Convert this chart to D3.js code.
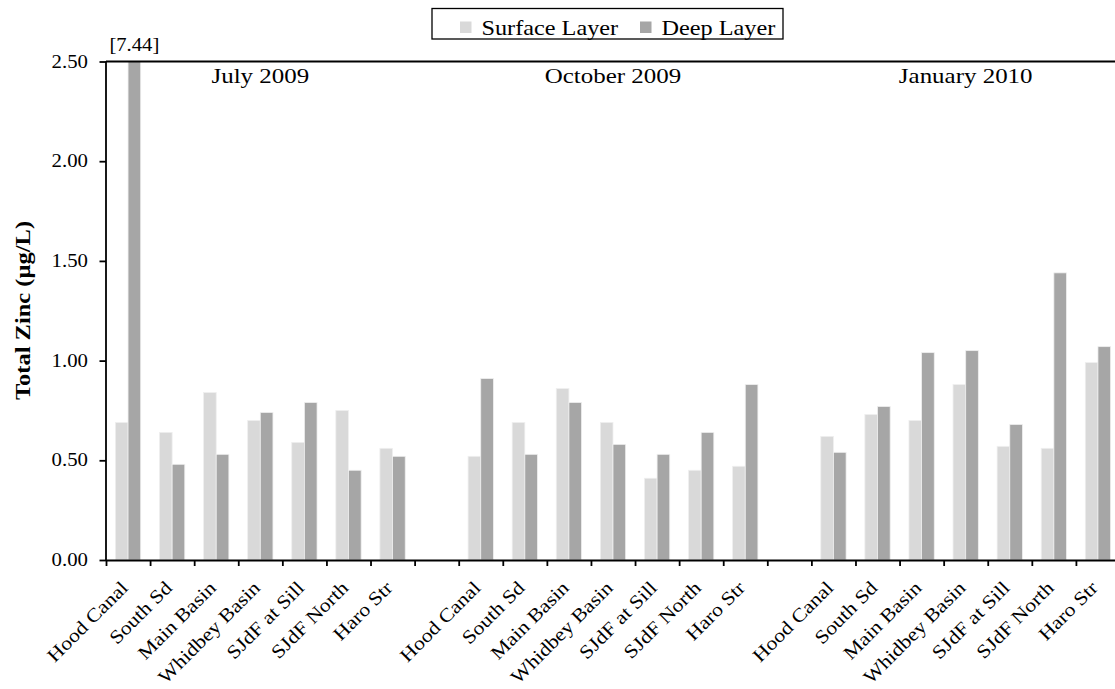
<!DOCTYPE html>
<html><head><meta charset="utf-8">
<script src="https://cdn.jsdelivr.net/npm/d3@7"></script>
<style>
html,body{margin:0;padding:0;background:#fff;overflow:hidden;}
text{font-family:"Liberation Serif","Times New Roman",serif;fill:#000;}
</style></head>
<body>
<svg id="chart" width="1115" height="689"></svg>
<script>
// ---- data ----
const stations = ["Hood Canal","South Sd","Main Basin","Whidbey Basin","SJdF at Sill","SJdF North","Haro Str"];
const periods = ["July 2009","October 2009","January 2010"];
const seriesNames = ["Surface Layer","Deep Layer"];
const surfaceJul = [0.69,0.64,0.84,0.70,0.59,0.75,0.56];
const deepJul    = [7.44,0.48,0.53,0.74,0.79,0.45,0.52];
const surfaceOct = [0.52,0.69,0.86,0.69,0.41,0.45,0.47];
const deepOct    = [0.91,0.53,0.79,0.58,0.53,0.64,0.88];
const surfaceJan = [0.62,0.73,0.70,0.88,0.57,0.56,0.99];
const deepJan    = [0.54,0.77,1.04,1.05,0.68,1.44,1.07];
const yTicks = [0,0.5,1.0,1.5,2.0,2.5];
const yMax = 2.5;

(function(){
// ---- build rows ----
const surfaceAll = [surfaceJul, surfaceOct, surfaceJan];
const deepAll = [deepJul, deepOct, deepJan];
const slots = [];
periods.forEach((p,pi)=>{
  stations.forEach((s,si)=>{
    slots.push({key:p+"|"+s, label:s, period:p, values:[surfaceAll[pi][si], deepAll[pi][si]]});
  });
  if(pi < periods.length-1) slots.push({key:"gap"+pi, label:"", period:null, values:null});
});

const STRETCH = 1.15;
const colors = ["#d9d9d9","#a6a6a6"];
const mL = 106, mR = 1120, mT = 61.5, mB = 560;

const svg = d3.select("#chart");

const x = d3.scaleBand().domain(slots.map(d=>d.key)).range([mL,mR])
  .paddingInner(0.426).paddingOuter(0.213);
const x1 = d3.scaleBand().domain(seriesNames).range([0,x.bandwidth()]);
const y = d3.scaleLinear().domain([0,yMax]).range([mB,mT]);
const xi = d3.scaleLinear().domain([0,slots.length]).range([mL,mR]);

// bars
const g = svg.append("g");
slots.filter(d=>d.values).forEach(d=>{
  seriesNames.forEach((s,i)=>{
    const v = Math.min(d.values[i], yMax);
    g.append("rect")
      .attr("x", x(d.key)+x1(s))
      .attr("y", y(v))
      .attr("width", x1.bandwidth())
      .attr("height", y(0)-y(v))
      .attr("fill", colors[i])
      .attr("stroke", "#efefef").attr("stroke-width", 0.8);
    if(d.values[i] > yMax){
      svg.append("text")
        .attr("transform", `translate(${x(d.key)+x1(s)+x1.bandwidth()/2},50.5) scale(${STRETCH},1)`)
        .attr("text-anchor","middle").style("font-size","18px")
        .text("["+d.values[i].toFixed(2)+"]");
    }
  });
});

// top border
svg.append("line").attr("x1",mL).attr("x2",mR).attr("y1",mT).attr("y2",mT)
  .attr("stroke","#000").attr("stroke-width",1.8);

// y axis
const yAxis = svg.append("g").attr("transform",`translate(${mL},0)`)
  .call(d3.axisLeft(y).tickValues(yTicks).tickSize(6.5).tickFormat(""));
yAxis.selectAll("path,line").attr("stroke","#000").attr("stroke-width",1.8);
yAxis.select("path").attr("d",`M0,${mT}V${mB}`);
yTicks.forEach(t=>{
  svg.append("text")
    .attr("transform",`translate(88,${y(t)+6}) scale(${STRETCH},1)`)
    .attr("text-anchor","end").style("font-size","18.1px")
    .text(d3.format(".2f")(t));
});

// x axis (slot boundary ticks)
const xAxis = svg.append("g").attr("transform",`translate(0,${mB})`)
  .call(d3.axisBottom(xi).tickValues(d3.range(0,slots.length+1)).tickSize(6).tickFormat("").tickSizeOuter(0));
xAxis.selectAll("path,line").attr("stroke","#000").attr("stroke-width",1.8);

// category labels
slots.filter(d=>d.label).forEach(d=>{
  const cx = x(d.key)+x.bandwidth()/2 + 1;
  svg.append("text")
    .attr("transform",`translate(${cx},589) rotate(-45) scale(${STRETCH},1)`)
    .attr("text-anchor","end").style("font-size","19px")
    .text(d.label);
});

// period labels
periods.forEach((p,pi)=>{
  const first = x(p+"|"+stations[0]) - x.step()*x.paddingInner()/2;
  const last = x(p+"|"+stations[stations.length-1]) + x.bandwidth() + x.step()*x.paddingInner()/2;
  svg.append("text")
    .attr("transform",`translate(${(first+last)/2},82.5) scale(${STRETCH},1)`)
    .attr("text-anchor","middle").style("font-size","21.7px")
    .text(p);
});

// y title
svg.append("text")
  .attr("transform",`translate(29.5,310.5) rotate(-90) scale(${STRETCH},1)`)
  .attr("text-anchor","middle").style("font-size","21.3px").style("font-weight","bold")
  .text("Total Zinc (µg/L)");

// legend
const lg = svg.append("g");
lg.append("rect").attr("x",432).attr("y",8.5).attr("width",351).attr("height",30.5)
  .attr("fill","#fff").attr("stroke","#000").attr("stroke-width",1.3);
const legX = [460,640];
seriesNames.forEach((s,i)=>{
  lg.append("rect").attr("x",legX[i]).attr("y",21.5).attr("width",11.5).attr("height",11.5).attr("fill",colors[i]);
  lg.append("text").attr("transform",`translate(${legX[i]+21.5},34.5) scale(${STRETCH},1)`)
    .style("font-size","21.1px").text(s);
});
})();
</script>
</body></html>
